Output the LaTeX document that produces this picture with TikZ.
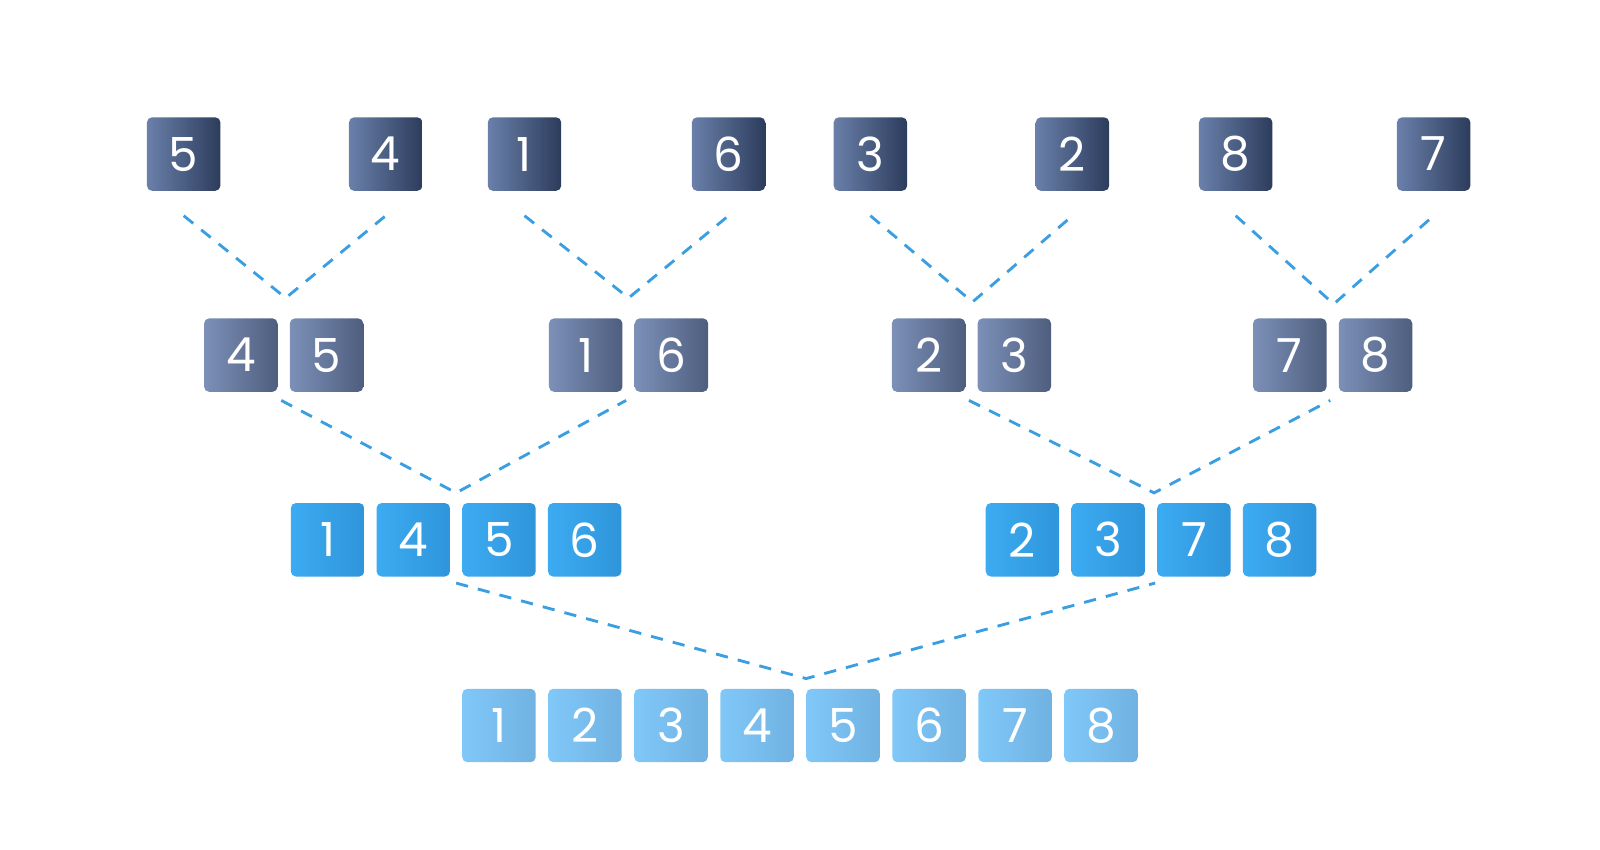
\documentclass[tikz,border=0pt]{standalone}
\usepackage{fontspec}
\setmainfont{Poppins}
\begin{document}
\begin{tikzpicture}[x=0.5pt,y=-0.5pt,
  box/.style={minimum size=36pt,inner sep=0pt,rounded corners=2.5pt,font=\fontsize{23}{23}\selectfont,text=white},
  lvA/.style={box,left color=dA1,right color=dA2},
  lvB/.style={box,left color=dB1,right color=dB2},
  lvC/.style={box,left color=dC1,right color=dC2},
  lvD/.style={box,left color=dD1,right color=dD2},
  link/.style={draw=lnk,line width=1.4pt,dash pattern=on 6pt off 5pt}]
\definecolor{dA1}{HTML}{6A80AA}\definecolor{dA2}{HTML}{2C3C5C}
\definecolor{dB1}{HTML}{7C90B8}\definecolor{dB2}{HTML}{4E5E7E}
\definecolor{dC1}{HTML}{3CABF2}\definecolor{dC2}{HTML}{2F95DA}
\definecolor{dD1}{HTML}{80C8F8}\definecolor{dD2}{HTML}{70B2E2}
\definecolor{lnk}{HTML}{3A9EE2}
\useasboundingbox (0,0) rectangle (1568,833);
% top
\foreach \x/\t/\n in {180/5/a1,378/4/a2,514/1/a3,714/6/a4,853/3/a5,1051/2/a6,1211/8/a7,1405/7/a8}
  \node[lvA] (\n) at (\x,151) {\t};
\foreach \x/\t/\n in {236/4/b1,320/5/b2,574/1/b3,658/6/b4,910/2/b5,994/3/b6,1264/7/b7,1348/8/b8}
  \node[lvB] (\n) at (\x,348) {\t};
\foreach \x/\t/\n in {321/1/c1,405/4/c2,489/5/c3,573/6/c4,1002/2/c5,1086/3/c6,1170/7/c7,1254/8/c8}
  \node[lvC] (\n) at (\x,529) {\t};
\foreach \i in {1,...,8}
  \node[lvD] (d\i) at ({489+84.3*(\i-1)},711) {\i};
% merge points
\coordinate (m1) at (280,292); \coordinate (m2) at (616,292);
\coordinate (m3) at (953,296); \coordinate (m4) at (1307,298);
\coordinate (n1) at (447,483); \coordinate (n2) at (1131,483);
\coordinate (p1) at (790,665);
\draw[link] ([yshift=-12pt]a1.south) -- (m1) -- ([yshift=-12pt]a2.south);
\draw[link] ([yshift=-12pt]a3.south) -- (m2) -- ([yshift=-12pt]a4.south);
\draw[link] ([yshift=-12pt]a5.south) -- (m3) -- ([yshift=-12pt]a6.south);
\draw[link] ([yshift=-12pt]a7.south) -- (m4) -- ([yshift=-12pt]a8.south);
\draw[link] ([xshift=-4pt,yshift=-4pt]b2.south west) -- (n1) -- ([xshift=-4pt,yshift=-4pt]b4.south west);
\draw[link] ([xshift=-4pt,yshift=-4pt]b6.south west) -- (n2) -- ([xshift=-4pt,yshift=-4pt]b8.south west);
\draw[link] ([xshift=-21pt,yshift=-3pt]c3.south) -- (p1) -- ([xshift=-19pt,yshift=-3pt]c7.south);
\end{tikzpicture}
\end{document}
